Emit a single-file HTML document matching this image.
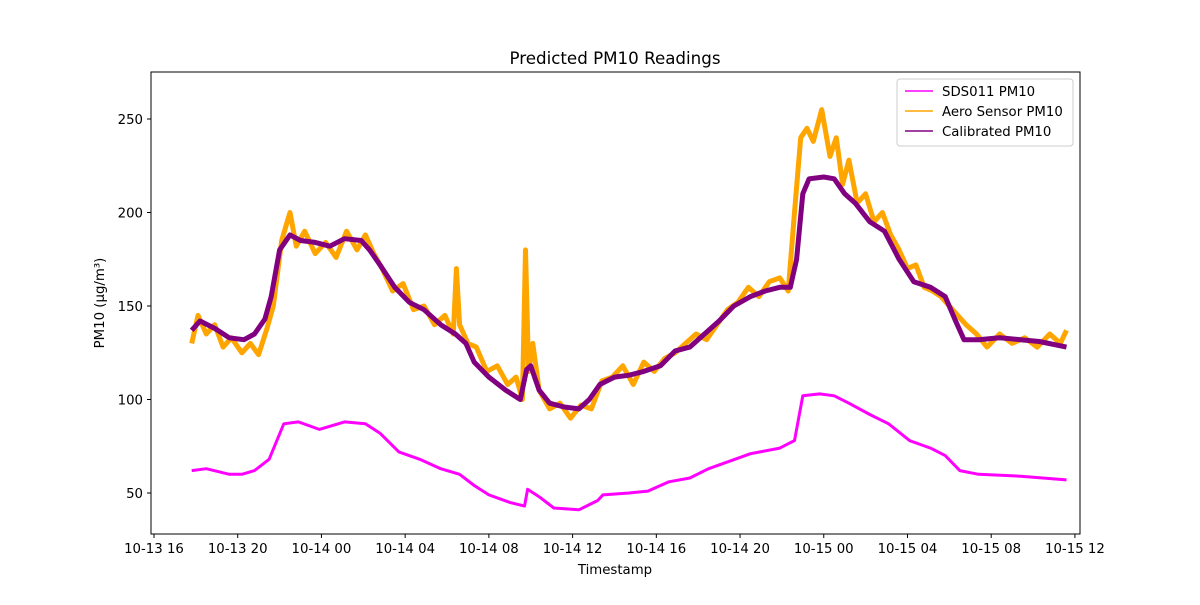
<!DOCTYPE html>
<html><head><meta charset="utf-8"><style>
html,body{margin:0;padding:0;background:#fff;}
svg text{font-family:"DejaVu Sans","Liberation Sans",sans-serif;fill:#000;}
</style></head><body>
<svg id="chart" width="1200" height="600" viewBox="0 0 1200 600" xmlns="http://www.w3.org/2000/svg">
<rect x="0" y="0" width="1200" height="600" fill="#fff"/>
<text x="615" y="64" text-anchor="middle" font-size="16.7">Predicted PM10 Readings</text>
<g id="series"></g>
<rect x="151" y="72" width="929" height="462" fill="none" stroke="#000" stroke-width="1"/>
<g id="yticks"></g>
<g id="xticks"></g>
<text x="615" y="574" text-anchor="middle" font-size="13.3">Timestamp</text>
<text transform="translate(104,303) rotate(-90)" text-anchor="middle" font-size="13.3">PM10 (µg/m³)</text>
<g>
<rect x="897" y="79" width="176" height="67" rx="3" fill="#fff" fill-opacity="0.8" stroke="#ccc"/>
<g><line x1="905" y1="91" x2="933" y2="91" stroke="#ff00ff" stroke-width="1.5"/><text x="942" y="96" font-size="13.3">SDS011 PM10</text></g>
<g><line x1="905" y1="111" x2="933" y2="111" stroke="#ffa500" stroke-width="1.5"/><text x="942" y="116" font-size="13.3">Aero Sensor PM10</text></g>
<g><line x1="905" y1="131" x2="933" y2="131" stroke="#800080" stroke-width="1.5"/><text x="942" y="136" font-size="13.3">Calibrated PM10</text></g>
</g>
</svg>
<script>
// hours since 10-13 16:00
const sdsHours=[1.8,2.5,3.6,4.2,4.8,5.5,6.2,6.9,7.9,9.1,10.1,10.8,11.7,12.7,13.7,14.6,15.3,16.0,17.0,17.7,17.85,18.4,19.1,20.3,21.2,21.45,22.7,23.6,24.6,25.6,26.5,27.5,28.5,29.9,30.6,31.0,31.8,32.5,33.2,34.2,35.1,36.1,37.1,37.8,38.5,39.4,41.4,43.6];
const sdsValues=[62,63,60,60,62,68,87,88,84,88,87,82,72,68,63,60,54,49,45,43,52,48,42,41,46,49,50,51,56,58,63,67,71,74,78,102,103,102,98,92,87,78,74,70,62,60,59,57];
const aeroHours=[1.8,2.1,2.5,2.9,3.3,3.7,4.2,4.6,5.0,5.4,5.7,6.1,6.5,6.8,7.2,7.7,8.2,8.7,9.2,9.7,10.1,10.5,10.9,11.4,11.9,12.4,12.9,13.4,13.9,14.3,14.45,14.6,15.0,15.4,15.9,16.4,16.9,17.3,17.6,17.75,17.9,18.1,18.4,18.9,19.4,19.9,20.4,20.9,21.4,21.9,22.4,22.9,23.4,23.9,24.4,24.9,25.4,25.9,26.4,26.9,27.4,27.9,28.4,28.9,29.4,29.9,30.3,30.6,30.9,31.2,31.5,31.9,32.3,32.6,32.9,33.2,33.6,34.0,34.4,34.8,35.2,35.6,36.0,36.4,36.8,37.2,37.6,38.0,38.4,38.8,39.3,39.8,40.4,41.0,41.6,42.2,42.8,43.3,43.6];
const aeroValues=[130,145,135,140,128,133,125,130,124,138,150,185,200,182,190,178,184,176,190,180,188,178,170,158,162,148,150,140,145,135,170,140,130,128,115,118,108,112,100,180,115,130,105,95,98,90,97,95,110,112,118,108,120,115,122,125,130,135,132,140,148,152,160,155,163,165,158,200,240,245,238,255,230,240,215,228,205,210,195,200,188,180,170,172,160,158,155,150,145,140,135,128,135,130,133,128,135,130,137];
const calHours=[1.8,2.2,2.9,3.6,4.3,4.8,5.3,5.6,6.0,6.5,7.0,7.7,8.4,9.1,9.9,10.3,10.8,11.5,12.2,12.9,13.7,14.4,14.9,15.3,16.0,16.8,17.5,17.8,18.0,18.4,18.9,19.6,20.3,20.8,21.3,22.0,22.7,23.4,24.2,24.9,25.6,26.3,27.0,27.7,28.5,29.2,29.9,30.4,30.7,31.0,31.3,32.0,32.5,33.0,33.5,34.2,34.9,35.6,36.3,37.1,37.8,38.3,38.7,39.4,40.4,41.4,42.3,43.6];
const calValues=[137,142,138,133,132,135,143,155,180,188,185,184,182,186,185,180,172,160,152,148,140,135,130,120,112,105,100,116,118,105,98,96,95,100,108,112,113,115,118,126,128,135,142,150,155,158,160,160,175,210,218,219,218,210,205,195,190,175,163,160,155,142,132,132,133,132,131,128];
const yTicks=[50,100,150,200,250];
const xTickHours=[0,4,8,12,16,20,24,28,32,36,40,44];
const xTickLabels=["10-13 16","10-13 20","10-14 00","10-14 04","10-14 08","10-14 12","10-14 16","10-14 20","10-15 00","10-15 04","10-15 08","10-15 12"];

const NS="http://www.w3.org/2000/svg";
const xs=h=>154+h*20.93;
const ys=v=>493-(v-50)*1.87;
function mk(tag,attrs,parent){const e=document.createElementNS(NS,tag);for(const k in attrs)e.setAttribute(k,attrs[k]);parent.appendChild(e);return e;}
const sg=document.getElementById('series');
function drawSeries(hours,vals,color,w,name){
  const pts=hours.map((h,i)=>xs(h).toFixed(1)+','+ys(vals[i]).toFixed(1)).join(' ');
  const p=mk('polyline',{points:pts,fill:'none',stroke:color,'stroke-width':w,'stroke-linejoin':'round'},sg);
  
  
}
drawSeries(sdsHours,sdsValues,'#ff00ff',3,'sds011-line');
drawSeries(aeroHours,aeroValues,'#ffa500',5,'aero-line');
drawSeries(calHours,calValues,'#800080',5,'calibrated-line');
const yg=document.getElementById('yticks');
yTicks.forEach(v=>{
  const l=mk('line',{x1:147,x2:151,y1:ys(v),y2:ys(v),stroke:'#000'},yg);
  
  
  const t=mk('text',{x:143,y:ys(v)+5,'text-anchor':'end','font-size':13.3},yg);
  t.textContent=v;
  
  
});
const xg=document.getElementById('xticks');
xTickHours.forEach((h,i)=>{
  const l=mk('line',{x1:xs(h),x2:xs(h),y1:534,y2:538,stroke:'#000'},xg);
  
  
  const t=mk('text',{x:xs(h),y:553,'text-anchor':'middle','font-size':13.3},xg);
  t.textContent=xTickLabels[i];
  
  
});
</script>
</body></html>
